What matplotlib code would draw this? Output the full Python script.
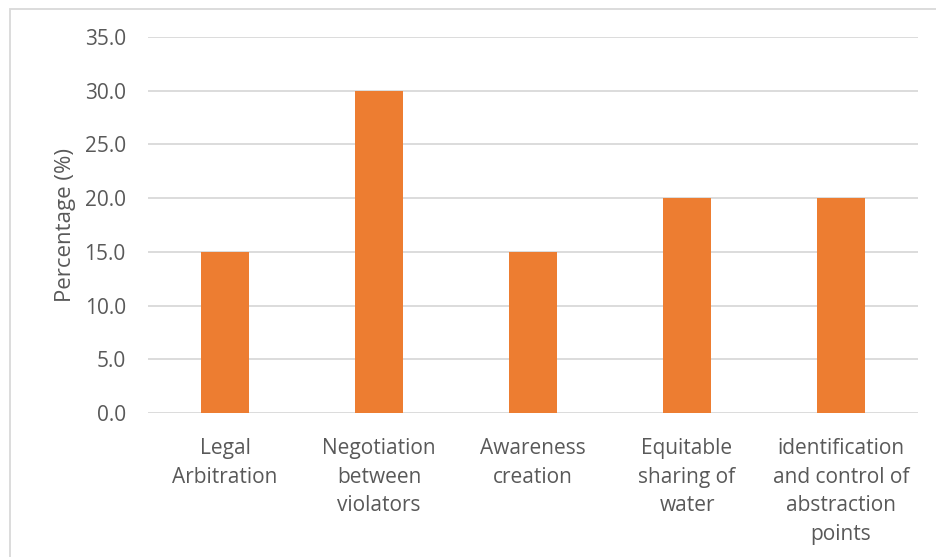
import matplotlib.pyplot as plt
from matplotlib.patches import Rectangle

categories = [
    "Legal\nArbitration",
    "Negotiation\nbetween\nviolators",
    "Awareness\ncreation",
    "Equitable\nsharing of\nwater",
    "identification\nand control of\nabstraction\npoints",
]
percentages = [15.0, 30.0, 15.0, 20.0, 20.0]
yticks = [0, 5, 10, 15, 20, 25, 30, 35]

BAR_COLOR = "#ED7D31"
TEXT_COLOR = "#595959"
GRID_COLOR = "#D9D9D9"

plt.rcParams["font.family"] = ["Open Sans", "DejaVu Sans"]

W, H = 936, 557
fig = plt.figure(figsize=(W / 100, H / 100), dpi=100)

# plot area in pixel terms
left, right, top, bottom = 148, 918, 37, 413
ax = fig.add_axes([left / W, 1 - bottom / H, (right - left) / W, (bottom - top) / H])

x = range(len(categories))
ax.bar(x, percentages, width=0.31, color=BAR_COLOR, zorder=3)

ax.set_ylim(0, 35)
ax.set_xlim(-0.5, len(categories) - 0.5)
ax.set_yticks(yticks)
ax.set_yticklabels([f"{v:.1f}" for v in yticks])
ax.set_xticks(list(x))
ax.set_xticklabels(categories, linespacing=1.47)

ax.grid(axis="y", color=GRID_COLOR, linewidth=1.3, zorder=0)
for s in ax.spines.values():
    s.set_visible(False)
ax.tick_params(axis="both", length=0, labelsize=15, colors=TEXT_COLOR)
ax.tick_params(axis="y", pad=16)
ax.tick_params(axis="x", pad=18)

ax.set_ylabel("Percentage (%)", fontsize=16, color=TEXT_COLOR, labelpad=6)

# outer chart frame, running off the right and bottom edges
fig.patches.append(Rectangle((10 / W, -0.1), 1.2, 1 - 9 / H + 0.1,
                             transform=fig.transFigure, fill=False,
                             edgecolor=GRID_COLOR, linewidth=1.3))

fig.savefig("out.png", dpi=100)
